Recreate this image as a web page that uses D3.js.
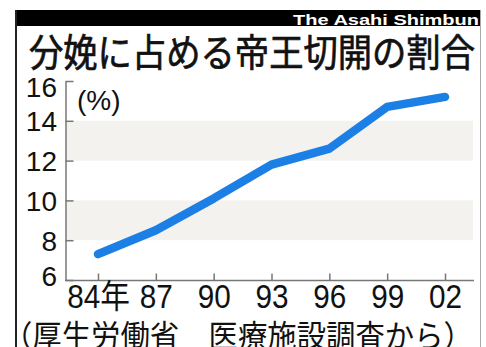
<!DOCTYPE html>
<html>
<head>
<meta charset="utf-8">
<script src="https://cdn.jsdelivr.net/npm/d3@7/dist/d3.min.js"></script>
<style>
  body { margin: 0; background: #fff; }
  svg { display: block; }
</style>
</head>
<body>
<div id="chart"></div>
<script>
// 調査年（横軸）
var years = [1984, 1987, 1990, 1993, 1996, 1999, 2002]
var yearLabels = ['84年', '87', '90', '93', '96', '99', '02']
// 分娩に占める帝王切開の割合（%）
var rates = [7.3, 8.5, 10.1, 11.8, 12.6, 14.7, 15.2]
// 縦軸目盛り
var yTicks = [6, 8, 10, 12, 14, 16]
// 背景の帯（下端, 上端）
var bands = [[8, 10], [12, 14]]

var titleText = '分娩に占める帝王切開の割合'
var creditText = 'The Asahi Shimbun'
var sourceText = '（厚生労働省　医療施設調査から）'
var unitText = '(%)'

var width = 486
var height = 347
var numFont = '"Liberation Sans", Arial, "Noto Sans CJK JP", sans-serif'
var jpFont = '"Noto Sans CJK JP", sans-serif'

var svg = d3.select('#chart').append('svg')
  .attr('width', width)
  .attr('height', height)

var x = d3.scaleLinear().domain([years[0], years[years.length - 1]]).range([98, 445])
var y = d3.scaleLinear().domain([6, 16]).range([280, 81])

// 枠と上部の黒帯
svg.append('rect')
  .attr('x', 15).attr('y', 10)
  .attr('width', 466).attr('height', 16)
  .attr('fill', '#000')
svg.append('line')
  .attr('x1', 16).attr('x2', 16).attr('y1', 10).attr('y2', height)
  .attr('stroke', '#222').attr('stroke-width', 2)
svg.append('line')
  .attr('x1', 480.5).attr('x2', 480.5).attr('y1', 10).attr('y2', height)
  .attr('stroke', '#aaa').attr('stroke-width', 1)

svg.append('text')
  .attr('x', 479).attr('y', 24.5)
  .attr('text-anchor', 'end')
  .attr('fill', '#fff')
  .style('font', 'bold 15px ' + numFont)
  .attr('textLength', 186)
  .attr('lengthAdjust', 'spacingAndGlyphs')
  .text(creditText)

// タイトル（長体、やや太め）
svg.append('text')
  .attr('x', 29).attr('y', 66)
  .attr('fill', '#111')
  .attr('stroke', '#111')
  .attr('stroke-width', 0.7)
  .style('font-family', jpFont)
  .style('font-size', '38px')
  .attr('textLength', 446)
  .attr('lengthAdjust', 'spacingAndGlyphs')
  .text(titleText)

// 背景の帯
svg.append('g').selectAll('rect')
  .data(bands)
  .enter()
  .append('rect')
  .attr('x', 66)
  .attr('width', 473 - 66)
  .attr('y', function(d) { return y(d[1]) })
  .attr('height', function(d) { return y(d[0]) - y(d[1]) })
  .attr('fill', '#f3f2ee')

// 縦軸
var yAxis = svg.append('g')
  .attr('transform', 'translate(65.5,0)')
  .call(d3.axisLeft(y).tickValues(yTicks).tickSize(-8).tickSizeOuter(0).tickPadding(8.5))
yAxis.selectAll('path, line').attr('stroke', '#777').attr('stroke-width', 1.5)
yAxis.selectAll('text')
  .attr('fill', '#111')
  .style('font-family', numFont)
  .style('font-size', '28px')
  .attr('dy', function(d) {
    // 上下端のラベルは枠内に寄せる
    if (d === 16) return '0.55em'
    if (d === 6) return '0.2em'
    return '0.35em'
  })

// 横軸
svg.append('line')
  .attr('x1', 65).attr('x2', 474)
  .attr('y1', 280.5).attr('y2', 280.5)
  .attr('stroke', '#777').attr('stroke-width', 1.5)
var xAxis = svg.append('g')
  .attr('transform', 'translate(0,280.5)')
  .call(d3.axisBottom(x).tickValues(years).tickSize(-7).tickPadding(4)
    .tickFormat(function(d, i) { return yearLabels[i] }))
xAxis.select('.domain').remove()
xAxis.selectAll('line').attr('stroke', '#777').attr('stroke-width', 1.5)
xAxis.selectAll('text')
  .attr('fill', '#111')
  .attr('transform', 'scale(0.9,1)')
  .attr('dy', '0.72em')
  .style('font-family', numFont)
  .style('font-size', '33px')

// 単位
svg.append('text')
  .attr('x', 77).attr('y', 110)
  .attr('fill', '#111')
  .style('font-family', numFont)
  .style('font-size', '28px')
  .text(unitText)

// 折れ線
var line = d3.line()
  .x(function(d, i) { return x(years[i]) })
  .y(function(d) { return y(d) })
svg.append('path')
  .datum(rates)
  .attr('d', line)
  .attr('fill', 'none')
  .attr('stroke', '#1b7fe6')
  .attr('stroke-width', 8.5)
  .attr('stroke-linecap', 'round')
  .attr('stroke-linejoin', 'round')

// 出典
svg.append('text')
  .attr('x', 3).attr('y', 347)
  .attr('fill', '#111')
  .style('font-family', jpFont)
  .style('font-size', '31px')
  .attr('textLength', 470)
  .attr('lengthAdjust', 'spacingAndGlyphs')
  .text(sourceText)
</script>
</body>
</html>
